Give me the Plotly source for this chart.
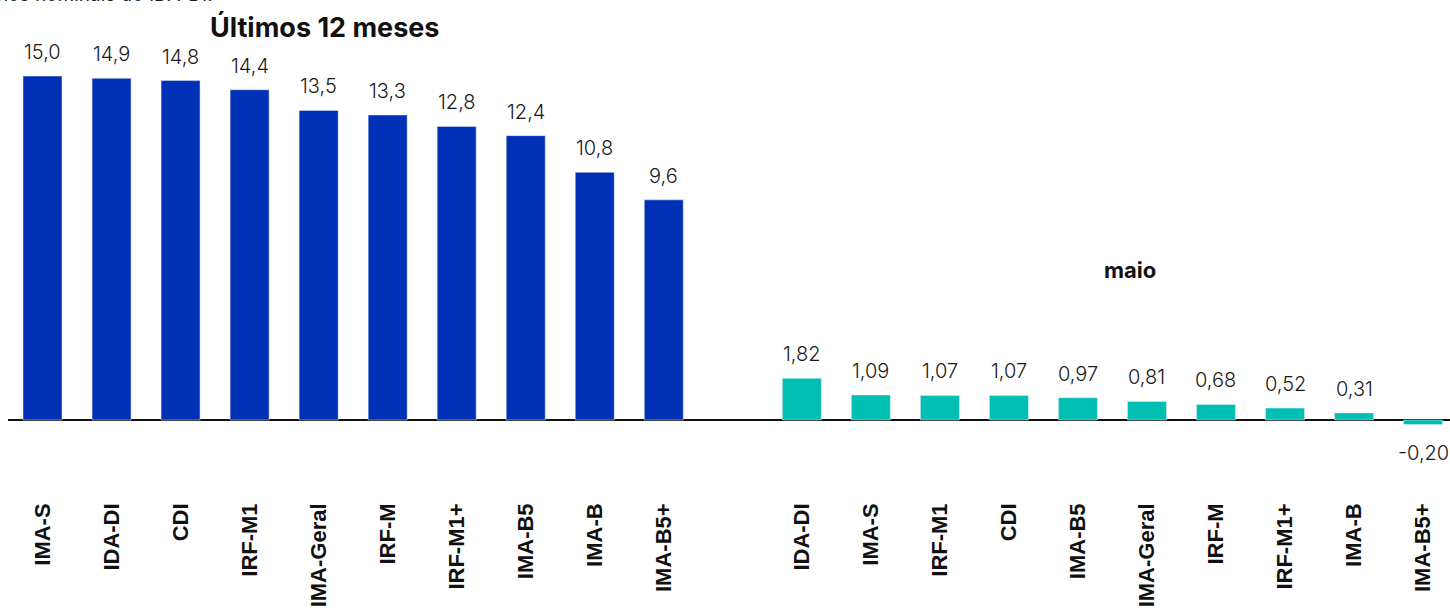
import plotly.graph_objects as go

# Retorno acumulado em 12 meses (%)
names_12m = ["IMA-S", "IDA-DI", "CDI", "IRF-M1", "IMA-Geral", "IRF-M", "IRF-M1+", "IMA-B5", "IMA-B", "IMA-B5+"]
values_12m = [15.0, 14.9, 14.8, 14.4, 13.5, 13.3, 12.8, 12.4, 10.8, 9.6]

# Retorno no mês de maio (%)
names_maio = ["IDA-DI", "IMA-S", "IRF-M1", "CDI", "IMA-B5", "IMA-Geral", "IRF-M", "IRF-M1+", "IMA-B", "IMA-B5+"]
values_maio = [1.82, 1.09, 1.07, 1.07, 0.97, 0.81, 0.68, 0.52, 0.31, -0.20]

BLUE = "#0030B6"
TEAL = "#00BFB3"
TEXT = "#1a1a1a"

# slots: group 1, one empty slot, group 2
x_12m = list(range(len(names_12m)))
x_maio = [len(names_12m) + 1 + i for i in range(len(names_maio))]

def fmt(v, d):
    return f"{v:.{d}f}".replace(".", ",")

fig = go.Figure()
fig.add_trace(go.Bar(x=x_12m, y=values_12m, marker_color=BLUE, width=0.565,
                     hoverinfo="skip", showlegend=False))
fig.add_trace(go.Bar(x=x_maio, y=values_maio, marker_color=TEAL, width=0.565,
                     hoverinfo="skip", showlegend=False))

label_font = dict(family="Inter, Roboto, sans-serif", size=20, color=TEXT, weight=300)
annotations = []
for xs, vs, d in ((x_12m, values_12m, 1), (x_maio, values_maio, 2)):
    for xv, v in zip(xs, vs):
        annotations.append(dict(
            x=xv, y=v, xref="x", yref="y", text=fmt(v, d), showarrow=False,
            yanchor="middle", yshift=24 if v >= 0 else -28, font=label_font))

# group titles
annotations.append(dict(x=(325 - 8) / 1442, y=(460 - 27) / 420, xref="paper", yref="paper",
                        xanchor="center", yanchor="middle",
                        text="<b>Últimos 12 meses</b>", showarrow=False,
                        font=dict(family="Inter, Roboto, sans-serif", size=27, color="#111")))
annotations.append(dict(x=x_maio[4] + 0.75, y=6.55, xref="x", yref="y",
                        xanchor="center", yanchor="middle",
                        text="<b>maio</b>", showarrow=False,
                        font=dict(family="Inter, Roboto, sans-serif", size=22, color="#111")))
# subtitle line running off the top edge
annotations.append(dict(x=(215 - 8) / 1442, y=1 + 32 / 420, xref="paper", yref="paper",
                        xanchor="right", yanchor="bottom", showarrow=False,
                        text="Retornos nominais do IDA-DI.",
                        font=dict(family="Inter, Roboto, sans-serif", size=19, color=TEXT)))

fig.update_layout(
    width=1450, height=610,
    margin=dict(l=8, r=0, t=40, b=150),
    plot_bgcolor="white", paper_bgcolor="white",
    annotations=annotations,
    bargap=0.43,
)
fig.update_xaxes(
    range=[-0.5, 20.39],
    tickvals=x_12m + x_maio,
    ticktext=[f"<b>{n}</b>" for n in names_12m + names_maio],
    tickangle=-90, ticks="", showline=False, showgrid=False, zeroline=False,
    ticklabelstandoff=38,
    tickfont=dict(family="Liberation Sans, Arial, sans-serif", size=22, color="#111"),
)
fig.update_yaxes(
    range=[-1.744, 16.57], showgrid=False, showticklabels=False, ticks="",
    zeroline=True, zerolinecolor="#111", zerolinewidth=1.5, showline=False,
)

fig.write_html("out.html")
